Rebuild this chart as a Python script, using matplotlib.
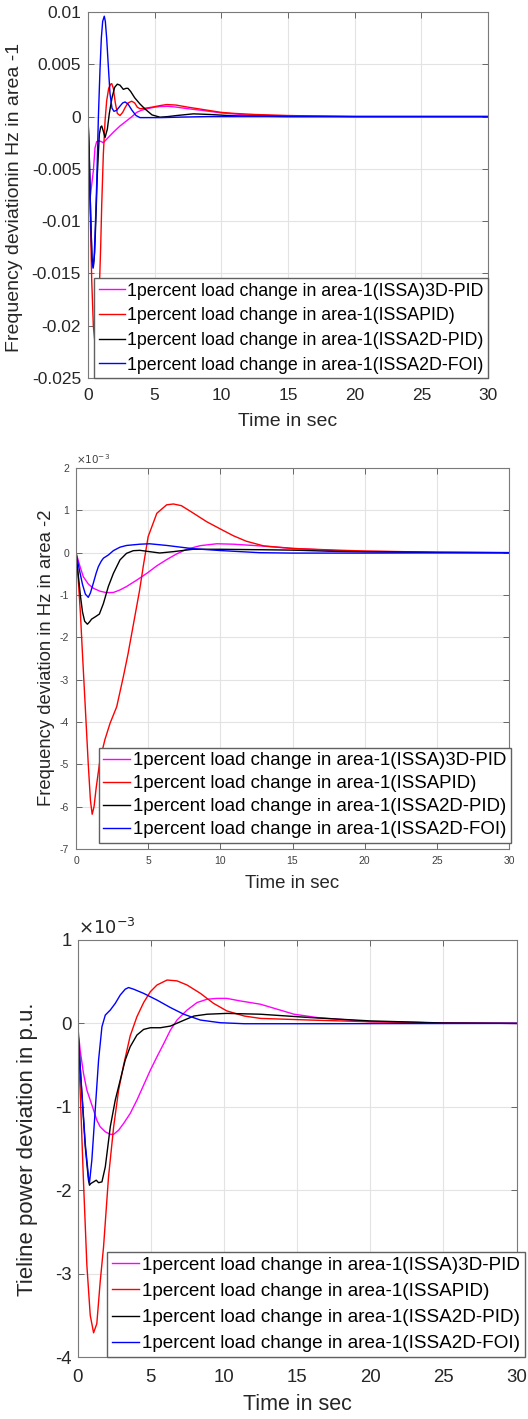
import matplotlib
matplotlib.use('Agg')
import matplotlib.pyplot as plt

plt.rcParams['font.family'] = ['Liberation Sans', 'DejaVu Sans']
plt.rcParams['axes.unicode_minus'] = False

#######################################
# Data
#######################################
labels = ['1percent load change in area-1(ISSA)3D-PID',
          '1percent load change in area-1(ISSAPID)',
          '1percent load change in area-1(ISSA2D-PID)',
          '1percent load change in area-1(ISSA2D-FOI)']
colors = ['#ff00ff', '#ff0000', '#000000', '#0000ff']

# Panel 1: frequency deviation area 1 [Hz]
f1_t_3d = [0, 0.05, 0.15, 0.25, 0.4, 0.525, 0.65, 0.78, 1.0, 1.15, 1.52, 1.9, 2.4, 2.9, 3.3,
           3.65, 4.0, 4.4, 5.0, 5.4, 6.0, 6.65, 7.5, 8.5, 10, 12, 15, 20, 30]
f1_v_3d = [0, -0.004, -0.0079, -0.0068, -0.0052, -0.003, -0.0024, -0.0023, -0.0024, -0.0025,
           -0.002, -0.0015, -0.0009, -0.0004, 0.0, 0.0004, 0.0006, 0.00074, 0.0009, 0.00096,
           0.00098, 0.0009, 0.00075, 0.0006, 0.00035, 0.00015, 0.00005, 0.0, 0.0]
f1_t_pid = [0, 0.1, 0.2, 0.28, 0.4, 0.55, 0.7, 0.85, 0.95, 1.03, 1.15, 1.28, 1.4, 1.55, 1.7,
            1.78, 1.9, 2.05, 2.2, 2.4, 2.6, 2.8, 3.0, 3.28, 3.5, 3.7, 3.9, 4.3, 4.8, 5.4, 5.9,
            6.6, 7.5, 8.5, 10, 11, 12.5, 15, 20, 30]
f1_v_pid = [0, -0.005, -0.011, -0.0157, -0.020, -0.022, -0.021, -0.0165, -0.0125, -0.0084,
            -0.0036, -0.0004, 0.0015, 0.0027, 0.0031, 0.00315, 0.0027, 0.0013, 0.0003, 0.0001,
            0.0004, 0.0009, 0.0013, 0.00147, 0.0013, 0.0009, 0.00075, 0.0008, 0.0009, 0.00105,
            0.00115, 0.0011, 0.0009, 0.0007, 0.0004, 0.0003, 0.0002, 0.0001, 0.0, 0.0]
f1_t_2d = [0, 0.1, 0.2, 0.3, 0.4, 0.5, 0.6, 0.7, 0.85, 0.95, 1.03, 1.15, 1.28, 1.45, 1.6, 1.8,
           2.0, 2.2, 2.4, 2.65, 2.85, 3.0, 3.2, 3.5, 3.9, 4.3, 4.8, 5.4, 6.0, 6.65, 7.9, 9.15,
           10.5, 12, 15, 30]
f1_v_2d = [0, -0.004, -0.0095, -0.0135, -0.0144, -0.013, -0.0095, -0.0055, -0.0017, -0.001,
           -0.0009, -0.0014, -0.002, -0.0012, 0.0003, 0.0018, 0.0028, 0.0031, 0.003, 0.0026,
           0.0027, 0.0027, 0.0024, 0.0018, 0.0012, 0.0007, 0.00016, -0.00006, 0.0, 0.0001,
           0.00026, 0.0002, 0.0001, 0.00005, 0.0, 0.0]
f1_t_foi = [0, 0.1, 0.2, 0.3, 0.38, 0.46, 0.55, 0.65, 0.78, 0.9, 1.0, 1.1, 1.22, 1.3, 1.4, 1.53,
            1.65, 1.8, 1.95, 2.15, 2.4, 2.6, 2.78, 3.0, 3.3, 3.6, 3.9, 4.5, 5.5, 7, 9, 11, 14, 30]
f1_v_foi = [0, -0.004, -0.0095, -0.0138, -0.0145, -0.0135, -0.0105, -0.0065, 0.0, 0.0045,
            0.0075, 0.0091, 0.0096, 0.0091, 0.0075, 0.0047, 0.0022, 0.0008, 0.0005, 0.0006,
            0.0010, 0.0013, 0.0014, 0.0012, 0.0006, 0.0001, -0.0001, -0.0001, -0.0001,
            -0.00005, 0.0, 0.0, 0.0, 0.0]

# Panel 2: frequency deviation area 2 [x1e-3 Hz]
f2_t_3d = [0, 0.28, 0.51, 0.85, 1.2, 1.66, 2.12, 2.59, 3.05, 3.5, 4.2, 4.9, 5.6, 6.3, 6.97,
           7.67, 8.6, 9.75, 10.9, 12.75, 15, 18, 20, 25, 30]
f2_v_3d = [0, -0.33, -0.57, -0.74, -0.84, -0.91, -0.945, -0.94, -0.88, -0.80, -0.65, -0.49,
           -0.31, -0.16, -0.03, 0.08, 0.165, 0.21, 0.2, 0.16, 0.1, 0.05, 0.03, 0.01, 0.0]
f2_t_pid = [0, 0.15, 0.3, 0.45, 0.62, 0.85, 1.0, 1.12, 1.25, 1.4, 1.66, 2.0, 2.36, 2.82, 3.28,
            3.6, 4.0, 4.4, 4.67, 5.0, 5.6, 6.28, 6.75, 7.3, 8.1, 9.06, 10, 10.9, 11.8, 13, 15,
            18, 20, 25, 30]
f2_v_pid = [0, -0.6, -1.4, -2.4, -3.5, -5.0, -5.85, -6.18, -6.0, -5.55, -4.9, -4.42, -4.03,
            -3.64, -2.93, -2.4, -1.65, -0.9, -0.3, 0.38, 0.93, 1.13, 1.15, 1.11, 0.94, 0.73,
            0.56, 0.4, 0.27, 0.16, 0.1, 0.06, 0.04, 0.01, 0.0]
f2_t_2d = [0, 0.15, 0.3, 0.45, 0.6, 0.79, 0.95, 1.08, 1.36, 1.62, 1.9, 2.24, 2.59, 3.05, 3.5,
           3.97, 4.43, 5.1, 5.8, 6.74, 8.1, 10, 12.7, 15, 18, 20, 25, 30]
f2_v_2d = [0, -0.5, -1.0, -1.4, -1.62, -1.69, -1.63, -1.57, -1.51, -1.45, -1.2, -0.8, -0.49,
           -0.17, -0.016, 0.047, 0.055, 0.024, -0.008, 0.024, 0.08, 0.08, 0.07, 0.06, 0.03,
           0.02, 0.005, 0.0]
f2_t_foi = [0, 0.2, 0.45, 0.65, 0.85, 1.0, 1.2, 1.4, 1.55, 1.75, 1.9, 2.24, 2.6, 3.05, 3.5,
            4.43, 5.1, 6.3, 8.1, 10, 12.7, 15, 20, 30]
f2_v_foi = [0, -0.35, -0.75, -0.98, -1.055, -0.95, -0.72, -0.48, -0.33, -0.2, -0.13, -0.055,
            0.05, 0.13, 0.17, 0.2, 0.21, 0.17, 0.094, 0.05, 0.0, -0.01, -0.01, 0.0]

# Panel 3: tieline power deviation [x1e-3 p.u.]
f3_t_3d = [0, 0.18, 0.41, 0.64, 0.87, 1.1, 1.32, 1.55, 1.9, 2.24, 2.47, 2.81, 3.15, 3.6, 4.06,
           4.52, 4.98, 5.43, 5.9, 6.35, 6.8, 7.49, 8.17, 8.86, 9.54, 10.2, 11.1, 12.5, 14.8,
           16.4, 20, 25, 30]
f3_v_3d = [0, -0.32, -0.6, -0.8, -0.92, -1.04, -1.16, -1.24, -1.3, -1.33, -1.33, -1.28, -1.2,
           -1.08, -0.92, -0.74, -0.56, -0.4, -0.24, -0.08, 0.04, 0.16, 0.25, 0.29, 0.3, 0.3,
           0.27, 0.23, 0.11, 0.07, 0.02, 0.005, 0.0]
f3_t_pid = [0, 0.18, 0.41, 0.64, 0.87, 1.1, 1.32, 1.55, 1.78, 2.12, 2.47, 2.81, 3.15, 3.6,
            4.06, 4.52, 4.98, 5.43, 6.12, 6.8, 7.49, 8.4, 9.3, 10.2, 11.4, 12.5, 15.9, 20, 25, 30]
f3_v_pid = [0, -0.8, -1.9, -2.9, -3.5, -3.71, -3.6, -3.1, -2.68, -1.84, -1.24, -0.8, -0.5,
            -0.15, 0.08, 0.25, 0.38, 0.46, 0.52, 0.51, 0.46, 0.36, 0.24, 0.15, 0.088, 0.06,
            0.04, 0.02, 0.005, 0.0]
f3_t_2d = [0, 0.23, 0.53, 0.75, 0.82, 0.91, 1.1, 1.28, 1.44, 1.67, 1.9, 2.24, 2.58, 2.92, 3.26,
           3.6, 4.06, 4.52, 4.98, 5.66, 6.35, 7.03, 7.95, 8.86, 10.2, 12.5, 15.9, 20, 25, 30]
f3_v_2d = [0, -0.66, -1.48, -1.88, -1.94, -1.92, -1.9, -1.88, -1.91, -1.9, -1.72, -1.24,
           -0.92, -0.68, -0.44, -0.28, -0.14, -0.072, -0.052, -0.052, -0.032, 0.02, 0.088,
           0.11, 0.12, 0.11, 0.07, 0.03, 0.005, 0.0]
f3_t_foi = [0, 0.23, 0.53, 0.75, 0.82, 0.98, 1.21, 1.44, 1.67, 1.9, 2.24, 2.58, 2.92, 3.26,
            3.49, 3.84, 4.52, 5.43, 6.35, 7.26, 8.4, 9.77, 11.4, 15, 30]
f3_v_foi = [0, -0.64, -1.44, -1.84, -1.91, -1.64, -1.04, -0.44, -0.04, 0.1, 0.16, 0.24, 0.34,
            0.41, 0.43, 0.41, 0.36, 0.28, 0.19, 0.11, 0.04, 0.008, -0.004, -0.004, 0.0]

xticks = [0, 5, 10, 15, 20, 25, 30]
y1_ticks = [-0.025, -0.02, -0.015, -0.01, -0.005, 0, 0.005, 0.01]
y1_labels = ['-0.025', '-0.02', '-0.015', '-0.01', '-0.005', '0', '0.005', '0.01']
y2_ticks = [-7, -6, -5, -4, -3, -2, -1, 0, 1, 2]
y3_ticks = [-4, -3, -2, -1, 0, 1]

#######################################
# Figure setup (pixel layout of the reference)
#######################################
W, H = 528, 1419
fig = plt.figure(figsize=(W / 100, H / 100), dpi=100)


def px_axes(x0, y0, x1, y1):
    return fig.add_axes([x0 / W, 1 - y1 / H, (x1 - x0) / W, (y1 - y0) / H])


def style(ax, tsize, tcolor, xpad, ypad):
    ax.set_xlim(0, 30)
    ax.set_xticks(xticks)
    ax.grid(True, color='#e3e3e3', linewidth=0.8)
    ax.set_axisbelow(True)
    ax.tick_params(direction='in', top=True, right=True, length=4, width=0.7,
                   labelsize=tsize, labelcolor=tcolor, color='#666666')
    ax.tick_params(axis='x', pad=xpad)
    ax.tick_params(axis='y', pad=ypad)
    for s in ax.spines.values():
        s.set_color('#7a7a7a')
        s.set_linewidth(0.8)


def legend(ax, size, anchor, spacing):
    ax.legend(labels, loc='lower right', bbox_to_anchor=anchor, fontsize=size,
              frameon=True, fancybox=False, framealpha=1, edgecolor='#606060',
              borderpad=0.25, labelspacing=spacing, handlelength=1.45, handletextpad=0.15,
              borderaxespad=0)


# Panel 1
ax1 = px_axes(88, 12, 488, 378)
for t, v, c in zip([f1_t_3d, f1_t_pid, f1_t_2d, f1_t_foi],
                   [f1_v_3d, f1_v_pid, f1_v_2d, f1_v_foi], colors):
    ax1.plot(t, v, color=c, linewidth=1.0)
ax1.set_ylim(-0.025, 0.01)
ax1.set_yticks(y1_ticks)
ax1.set_yticklabels(y1_labels)
style(ax1, 12.5, '#262626', 7, 5)
legend(ax1, 12.8, (1, 0), 0.43)
fig.text(15 / W, 1 - 197 / H, 'Frequency deviationin Hz in area -1', rotation=90,
         ha='center', va='center', fontsize=14, color='#262626')
fig.text(288 / W, 1 - 422 / H, 'Time in sec', ha='center', va='center',
         fontsize=14, color='#262626')

# Panel 2
ax2 = px_axes(76, 468, 509, 849)
for t, v, c in zip([f2_t_3d, f2_t_pid, f2_t_2d, f2_t_foi],
                   [f2_v_3d, f2_v_pid, f2_v_2d, f2_v_foi], colors):
    ax2.plot(t, v, color=c, linewidth=1.0)
ax2.set_ylim(-7, 2)
ax2.set_yticks(y2_ticks)
ax2.set_yticklabels([str(v) for v in y2_ticks])
style(ax2, 7.5, '#404040', 5, 5)
legend(ax2, 13.4, (1 + 2 / 433, 6 / 381), 0.32)
ax2.text(0, 1.006, r'$\times10^{-3}$', transform=ax2.transAxes, ha='left', va='bottom',
         fontsize=7.5, color='#404040')
fig.text(47 / W, 1 - 658 / H, 'Frequency deviation in Hz in area -2', rotation=90,
         ha='center', va='center', fontsize=13.3, color='#262626')
fig.text(292 / W, 1 - 883 / H, 'Time in sec', ha='center', va='center',
         fontsize=13.4, color='#262626')

# Panel 3
ax3 = px_axes(77.5, 940, 516.5, 1357)
for t, v, c in zip([f3_t_3d, f3_t_pid, f3_t_2d, f3_t_foi],
                   [f3_v_3d, f3_v_pid, f3_v_2d, f3_v_foi], colors):
    ax3.plot(t, v, color=c, linewidth=1.0)
ax3.set_ylim(-4, 1)
ax3.set_yticks(y3_ticks)
ax3.set_yticklabels([str(v) for v in y3_ticks])
style(ax3, 13.4, '#262626', 9, 4)
legend(ax3, 13.6, (1 + 8.5 / 439, 0), 0.47)
ax3.text(0, 1.005, r'$\times10^{-3}$', transform=ax3.transAxes, ha='left', va='bottom',
         fontsize=13, color='#262626')
fig.text(28 / W, 1 - 1149 / H, 'Tieline power deviation in p.u.', rotation=90,
         ha='center', va='center', fontsize=16, color='#262626')
fig.text(297 / W, 1 - 1405 / H, 'Time in sec', ha='center', va='center',
         fontsize=15.5, color='#262626')

fig.savefig('out.png', dpi=100)
